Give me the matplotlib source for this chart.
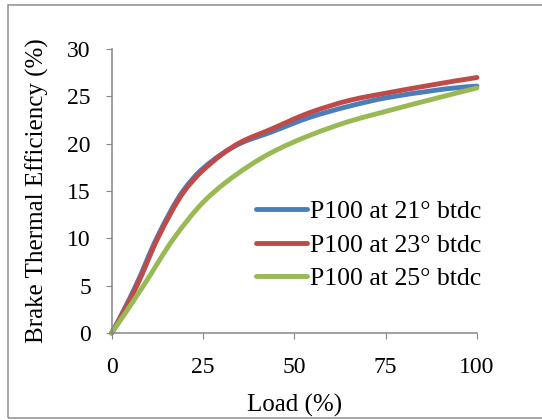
import numpy as np
from matplotlib import pyplot as plt
from matplotlib.path import Path
from matplotlib.patches import PathPatch, Rectangle
from matplotlib.lines import Line2D

# load (%) / brake thermal efficiency (%)
load_21 = [0, 6.6, 12.3, 19.5, 25, 35, 43.4, 54.3, 65.3, 75.8, 100]
bte_21 = [0, 5.0, 10.0, 15.0, 17.4, 20.0, 21.2, 22.8, 24.0, 24.9, 26.1]
load_23 = [0, 6.9, 12.6, 19.9, 25, 35, 43.4, 54.3, 65.3, 75.8, 100]
bte_23 = [0, 5.0, 10.0, 15.0, 17.2, 20.1, 21.5, 23.3, 24.6, 25.4, 27.0]
load_25 = [0, 8.7, 17.0, 25, 31.5, 43.4, 54.3, 65.3, 75.8, 100]
bte_25 = [0, 5.0, 10.0, 13.8, 16.0, 19.0, 20.9, 22.4, 23.5, 25.9]

labels = ["P100 at 21\u00b0 btdc", "P100 at 23\u00b0 btdc", "P100 at 25\u00b0 btdc"]
colors = ["#4A7EBB", "#BE4B48", "#98B954"]

plt.rcParams['font.family'] = ['Liberation Serif', 'DejaVu Serif']


def smooth_path(x, y):
    # monotone cubic (Fritsch-Carlson) through the points, as bezier segments
    x = np.asarray(x, float)
    y = np.asarray(y, float)
    h = np.diff(x)
    d = np.diff(y) / h
    n = len(x)
    m = np.zeros(n)
    for k in range(1, n - 1):
        if d[k - 1] * d[k] > 0:
            w1 = 2 * h[k] + h[k - 1]
            w2 = h[k] + 2 * h[k - 1]
            m[k] = (w1 + w2) / (w1 / d[k - 1] + w2 / d[k])
    m[0] = ((2 * h[0] + h[1]) * d[0] - h[0] * d[1]) / (h[0] + h[1])
    m[-1] = ((2 * h[-1] + h[-2]) * d[-1] - h[-1] * d[-2]) / (h[-1] + h[-2])
    if m[0] * d[0] <= 0:
        m[0] = 0
    if m[-1] * d[-1] <= 0:
        m[-1] = 0
    verts = [(x[0], y[0])]
    codes = [Path.MOVETO]
    for k in range(n - 1):
        s = h[k] / 3
        verts += [(x[k] + s, y[k] + m[k] * s),
                  (x[k + 1] - s, y[k + 1] - m[k + 1] * s),
                  (x[k + 1], y[k + 1])]
        codes += [Path.CURVE4] * 3
    return Path(verts, codes)


fig = plt.figure(figsize=(5.42, 4.2), dpi=100)
fig.patches.append(Rectangle((0.0148, 0.005), 1.0, 0.983, transform=fig.transFigure,
                             fill=False, edgecolor="#8E8E8E", linewidth=1.1))
ax = fig.add_axes([0.206, 0.207, 0.674, 0.676])

handles = []
series = [(load_21, bte_21), (load_23, bte_23), (load_25, bte_25)]
for (xs, ys), c, lab in zip(series, colors, labels):
    ax.add_patch(PathPatch(smooth_path(xs, ys), fill=False, edgecolor=c,
                           linewidth=3.5, capstyle='round', joinstyle='round',
                           clip_on=False))
    handles.append(Line2D([], [], color=c, linewidth=3.5, solid_capstyle='round', label=lab))

ax.set_xlim(0, 100)
ax.set_ylim(0, 30)
ax.set_xticks([0, 25, 50, 75, 100])
ax.set_yticks(range(0, 31, 5))
for s in ['top', 'right']:
    ax.spines[s].set_visible(False)
for s in ['left', 'bottom']:
    ax.spines[s].set_color("#868686")
    ax.spines[s].set_linewidth(1.1)
ax.tick_params(axis='both', length=4, color="#868686", labelsize=17)
ax.tick_params(axis='y', pad=11)
ax.tick_params(axis='x', pad=13)
ax.set_xlabel("Load (%)", fontsize=18, labelpad=12)
ax.set_ylabel("Brake Thermal Efficiency (%)", fontsize=18, labelpad=13)

ax.legend(handles=handles, loc='center left', bbox_to_anchor=(0.395, 0.31), frameon=False,
          fontsize=18.5, handlelength=2.0, handletextpad=0.12, labelspacing=0.4, borderpad=0,
          borderaxespad=0)

fig.savefig("out.png", dpi=100)
